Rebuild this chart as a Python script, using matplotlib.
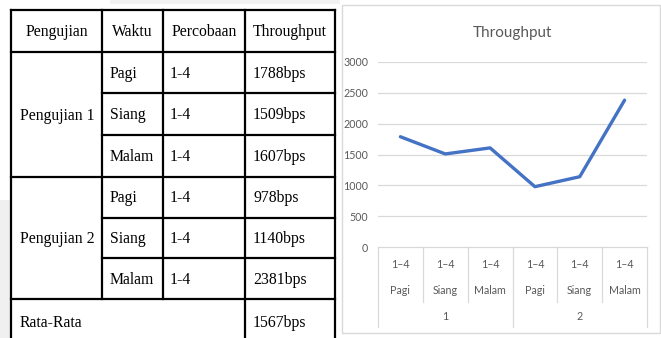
import matplotlib.pyplot as plt
from matplotlib.patches import Rectangle

# data
pengujian = ["Pengujian 1", "Pengujian 2"]
waktu = ["Pagi", "Siang", "Malam"]
percobaan = "1-4"
throughput = [1788, 1509, 1607, 978, 1140, 2381]
rata_rata = 1567
headers = ["Pengujian", "Waktu", "Percobaan", "Throughput"]
yticks = [0, 500, 1000, 1500, 2000, 2500, 3000]

W, H = 661, 338
fig = plt.figure(figsize=(W / 100, H / 100), dpi=100)

# ---- table, drawn in pixel coords ----
tab = fig.add_axes([0, 0, 1, 1])
tab.set_xlim(0, W)
tab.set_ylim(H, 0)
tab.axis("off")
tab.add_patch(Rectangle((0, 200), 10, 140, color="#f0f0f0", lw=0))
tab.add_patch(Rectangle((110, 0), 230, 4, color="#f2f2f2", lw=0))

cols = [11, 102, 163, 245, 335]
rows = [10, 52, 93, 135, 177, 218, 258, 299, 345]
lw = 1.6
tfont = dict(family="Liberation Serif", fontsize=11.3, color="black")

def hline(y, x0, x1):
    tab.plot([x0, x1], [y, y], color="black", lw=lw, solid_capstyle="projecting")

def vline(x, y0, y1):
    tab.plot([x, x], [y0, y1], color="black", lw=lw, solid_capstyle="projecting")

# outer and header
for y in [rows[0], rows[1], rows[4], rows[7]]:
    hline(y, cols[0], cols[4])
for y in [rows[2], rows[3], rows[5], rows[6]]:
    hline(y, cols[1], cols[4])
for x in [cols[0], cols[3], cols[4]]:
    vline(x, rows[0], rows[8])
for x in [cols[1], cols[2]]:
    vline(x, rows[0], rows[7])

for i, h in enumerate(headers):
    tab.text((cols[i] + cols[i + 1]) / 2, (rows[0] + rows[1]) / 2 + 1, h,
             ha="center", va="center", **tfont)

for g, name in enumerate(pengujian):
    r0 = 1 + g * 3
    tab.text(20, (rows[r0] + rows[r0 + 3]) / 2 + 1, name, ha="left", va="center", **tfont)
    for k, w in enumerate(waktu):
        yc = (rows[r0 + k] + rows[r0 + k + 1]) / 2 + 1
        tab.text(cols[1] + 8, yc, w, ha="left", va="center", **tfont)
        tab.text(cols[2] + 7, yc, percobaan, ha="left", va="center", **tfont)
        tab.text(cols[3] + 8, yc, f"{throughput[g * 3 + k]}bps", ha="left", va="center", **tfont)

tab.text(20, 323, "Rata-Rata", ha="left", va="center", **tfont)
tab.text(cols[3] + 8, 323, f"{rata_rata}bps", ha="left", va="center", **tfont)

# chart border
tab.add_patch(Rectangle((342, 5), 318, 328, fill=False, ec="#d9d9d9", lw=1))

# ---- line chart ----
cfont = "Lato"
gray = "#595959"
fs = 7.7
px0, px1, py_top, py0 = 378, 647, 62, 247
ax = fig.add_axes([px0 / W, (H - py0) / H, (px1 - px0) / W, (py0 - py_top) / H])
x = list(range(len(throughput)))
ax.plot(x, throughput, color="#4472C4", lw=2.4, solid_capstyle="round")
ax.set_xlim(-0.5, len(throughput) - 0.5)
ax.set_ylim(0, 3000)
ax.set_yticks(yticks)
ax.set_yticklabels([str(v) for v in yticks], family=cfont, fontsize=fs, color=gray)
ax.tick_params(axis="y", length=0, pad=7)
ax.set_xticks([])
for s in ax.spines.values():
    s.set_visible(False)
for v in yticks[1:]:
    ax.axhline(v, color="#d9d9d9", lw=0.9, zorder=0)
ax.set_title("Throughput", family=cfont, fontsize=11, color=gray, pad=18)

def fy(py):
    return (py0 - py) / (py0 - py_top)

tr = ax.get_xaxis_transform()
ax.plot([-0.5, 5.5], [0, 0], transform=tr, color="#d9d9d9", lw=0.9, clip_on=False)
for b in range(len(throughput) + 1):
    bx = b - 0.5
    bottom = fy(327) if b % 3 == 0 else fy(302)
    ax.plot([bx, bx], [0, bottom], transform=tr, color="#d9d9d9", lw=0.9, clip_on=False)
for i in x:
    ax.text(i, fy(264), percobaan.replace("-", "–"), transform=tr, ha="center", va="center",
            family=cfont, fontsize=fs, color=gray)
    ax.text(i, fy(290), waktu[i % 3], transform=tr, ha="center", va="center",
            family=cfont, fontsize=fs, color=gray)
for g in range(len(pengujian)):
    ax.text(g * 3 + 1, fy(317), str(g + 1), transform=tr, ha="center", va="center",
            family=cfont, fontsize=fs, color=gray)

fig.savefig("out.png", dpi=100)
